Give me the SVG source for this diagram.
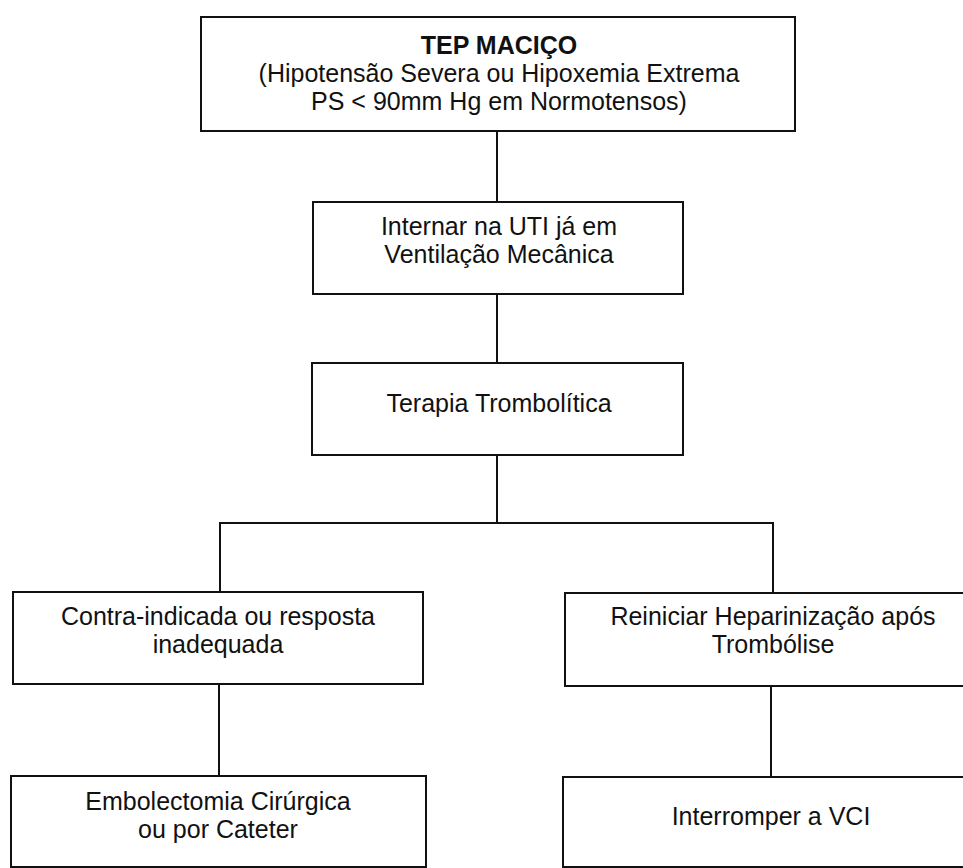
<svg xmlns="http://www.w3.org/2000/svg" width="963" height="868" viewBox="0 0 963 868">
  <style>
    .box { fill: #ffffff; stroke: #111111; stroke-width: 2; }
    .wire { fill: none; stroke: #111111; stroke-width: 2; }
    text { font-family: "Liberation Sans", Arial, sans-serif; font-size: 25px; fill: #111111; text-anchor: middle; }
    .bold { font-weight: bold; }
  </style>
  <rect width="963" height="868" fill="#ffffff"/>

  <!-- connectors -->
  <g id="connectors">
    <line class="wire" x1="497" y1="131" x2="497" y2="202"/>
    <line class="wire" x1="497" y1="294" x2="497" y2="363"/>
    <line class="wire" x1="497" y1="455" x2="497" y2="523"/>
    <polyline class="wire" points="220,592 220,523 773,523 773,593"/>
    <line class="wire" x1="219" y1="684" x2="219" y2="776"/>
    <line class="wire" x1="771" y1="686" x2="771" y2="777"/>
  </g>

  <!-- massive PE -->
  <g id="tep-macico">
    <rect class="box" x="201" y="17" width="594" height="114"/>
    <text class="bold" x="499" y="54">TEP MACIÇO</text>
    <text x="499" y="82">(Hipotensão Severa ou Hipoxemia Extrema</text>
    <text x="499" y="110">PS &lt; 90mm Hg em Normotensos)</text>
  </g>

  <g id="internar-uti">
    <rect class="box" x="313" y="202" width="370" height="92"/>
    <text x="499" y="235">Internar na UTI já em</text>
    <text x="499" y="263">Ventilação Mecânica</text>
  </g>

  <g id="terapia-trombolitica">
    <rect class="box" x="312" y="363" width="371" height="92"/>
    <text x="499" y="412">Terapia Trombolítica</text>
  </g>

  <g id="contra-indicada">
    <rect class="box" x="13" y="592" width="410" height="92"/>
    <text x="218" y="625">Contra-indicada ou resposta</text>
    <text x="218" y="653">inadequada</text>
  </g>

  <g id="reiniciar-heparinizacao">
    <rect class="box" x="565" y="593" width="410" height="93"/>
    <text x="773" y="625">Reiniciar Heparinização após</text>
    <text x="773" y="653">Trombólise</text>
  </g>

  <g id="embolectomia">
    <rect class="box" x="11" y="776" width="415" height="91"/>
    <text x="218" y="810">Embolectomia Cirúrgica</text>
    <text x="218" y="838">ou por Cateter</text>
  </g>

  <g id="interromper-vci">
    <rect class="box" x="563" y="777" width="412" height="90"/>
    <text x="771" y="825">Interromper a VCI</text>
  </g>
</svg>
